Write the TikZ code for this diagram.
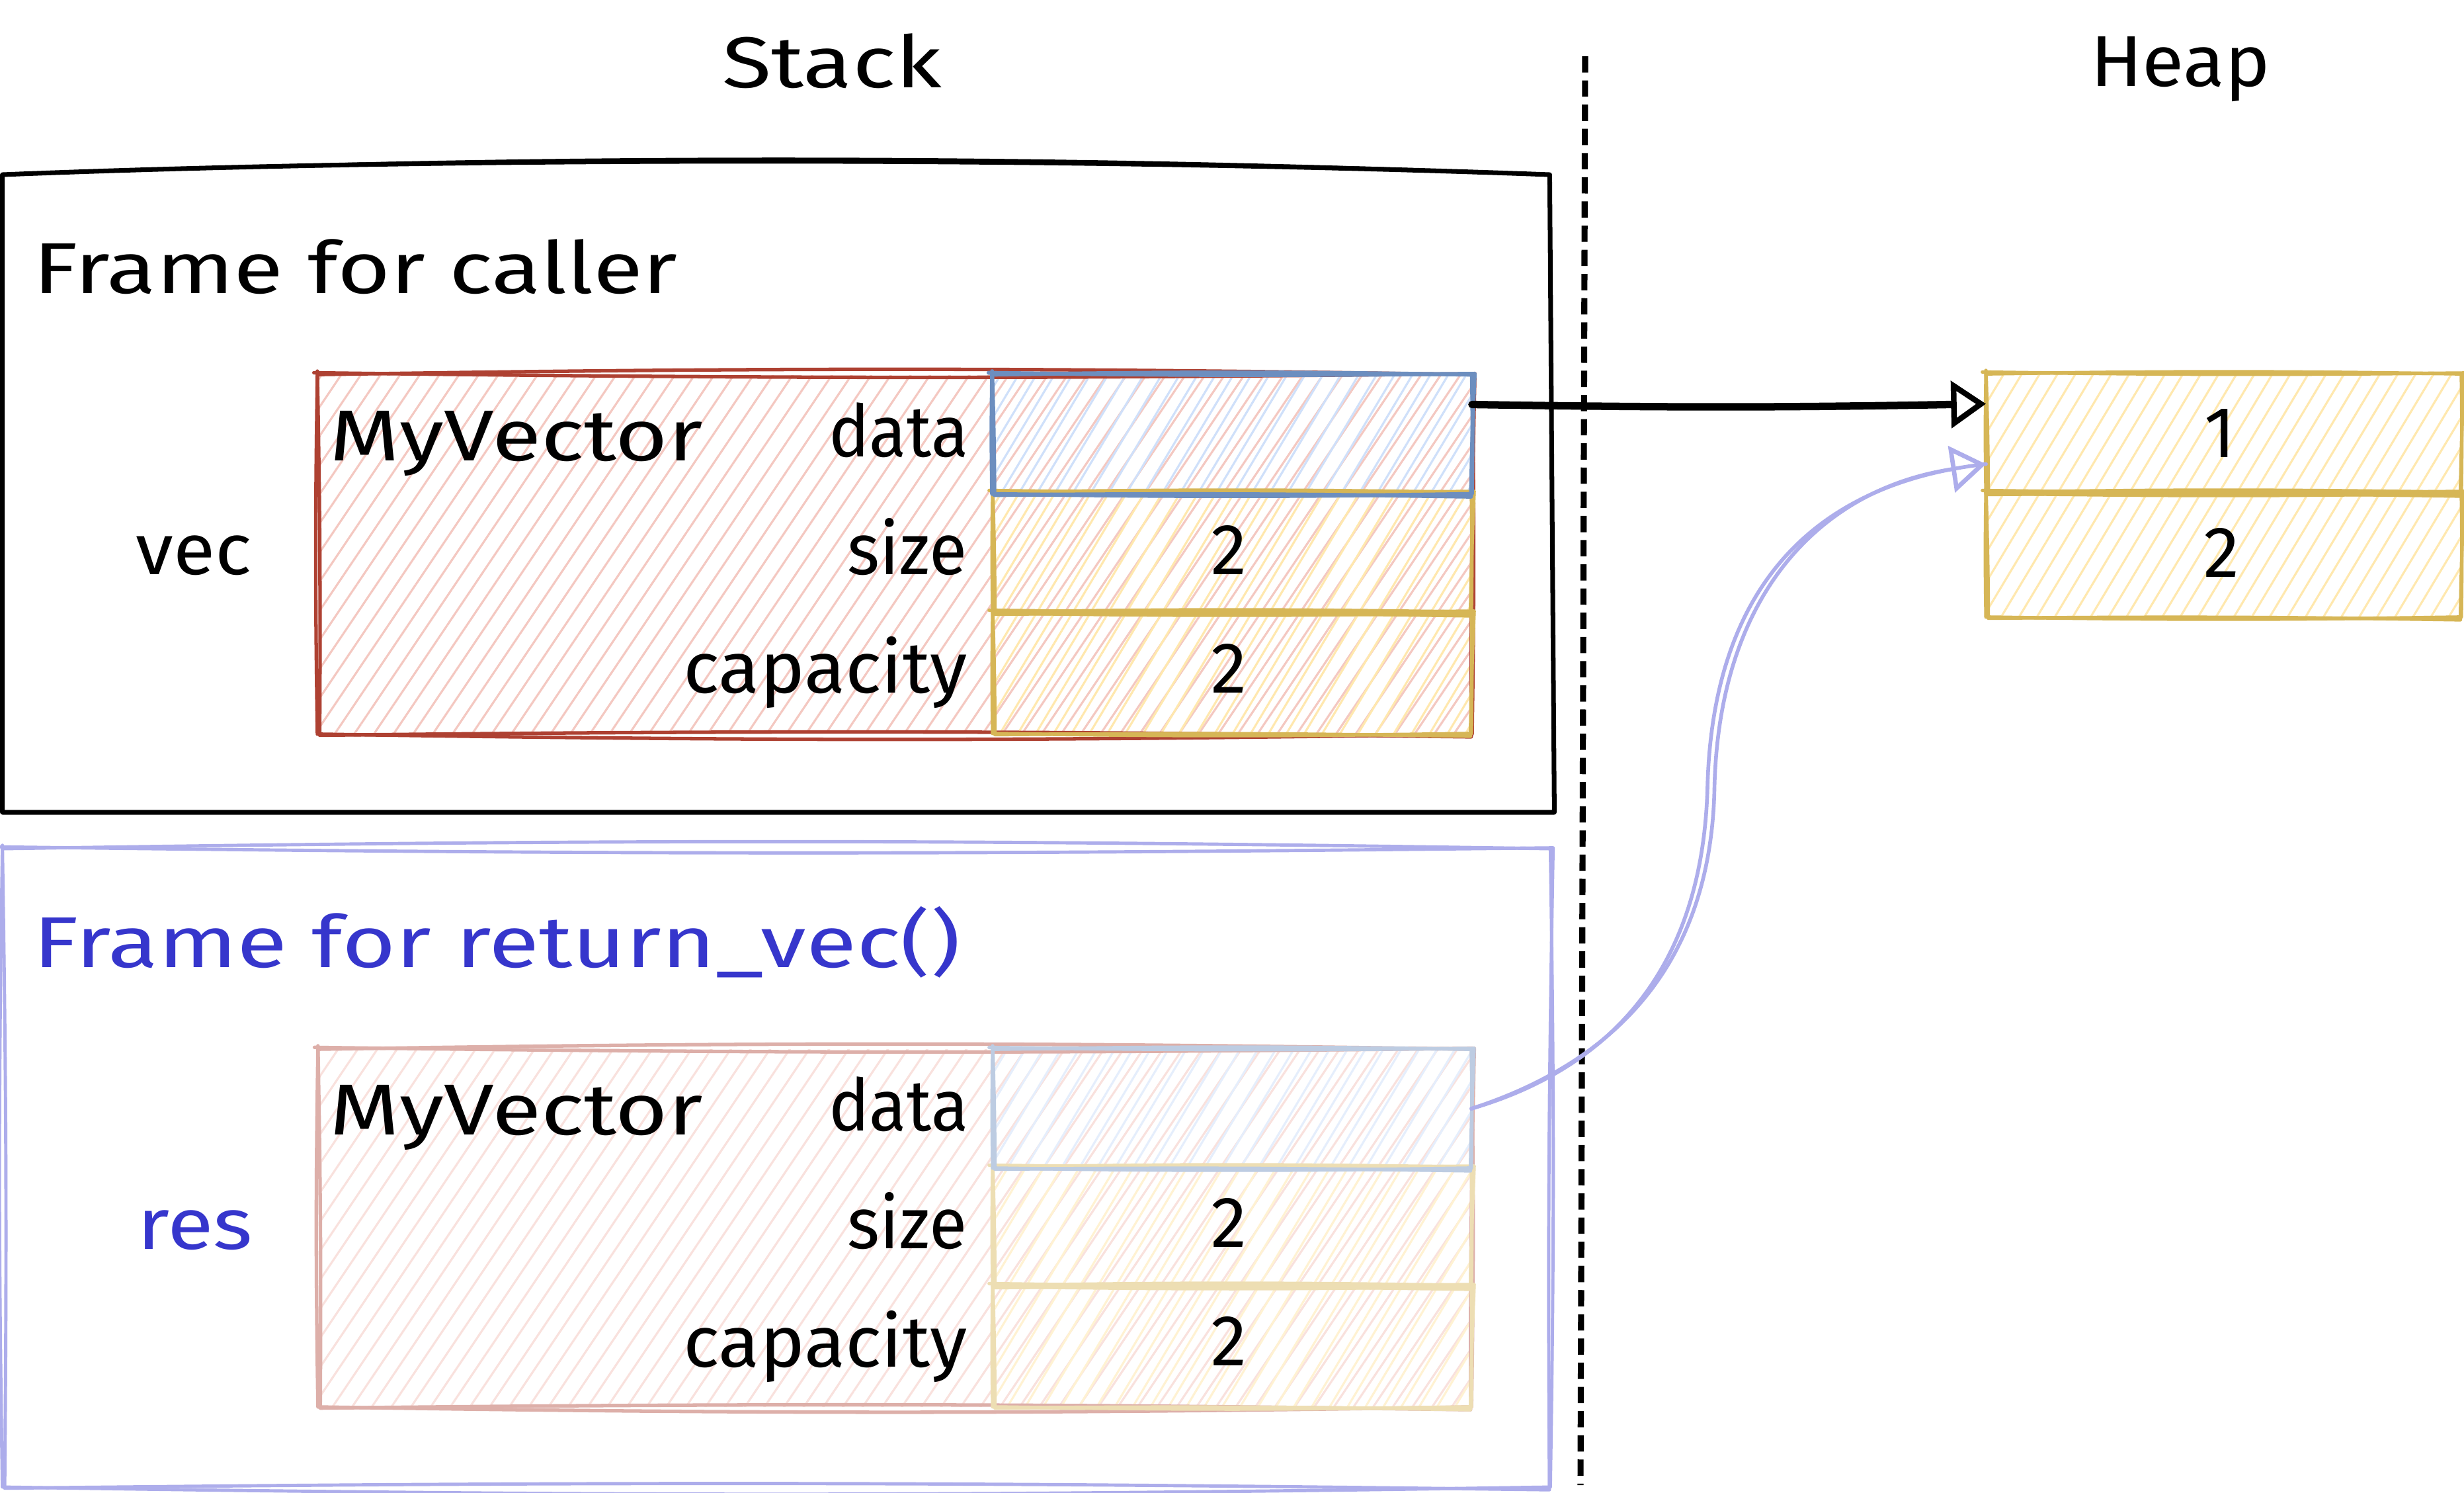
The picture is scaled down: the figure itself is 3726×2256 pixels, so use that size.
\documentclass[tikz,border=0pt]{standalone}
\usepackage{fontspec}
\usepackage{graphicx}
\setmainfont{Fira Sans}
\usetikzlibrary{arrows.meta,patterns.meta,calc}

\definecolor{redline}{HTML}{AE4132}
\definecolor{redfill}{HTML}{F4C8C1}
\definecolor{blueline}{HTML}{6C8EBF}
\definecolor{bluefill}{HTML}{CFE0FA}
\definecolor{goldline}{HTML}{D6B656}
\definecolor{goldfill}{HTML}{FFE8AE}
\definecolor{lavline}{HTML}{ADADEB}
\definecolor{titleblue}{HTML}{3636CC}

% hand-drawn rectangle: two slightly bent passes along the node border
\newcommand\roughbox[2]{%
  \draw[#1] (#2.north west) to[bend left=0.9] (#2.north east)
     to[bend left=0.9] (#2.south east) to[bend left=0.9] (#2.south west)
     to[bend left=0.9] (#2.north west);
  \draw[#1] ([shift={(-1.5pt,0.8pt)}]#2.north west) to[bend right=0.7] ([shift={(1.2pt,0.4pt)}]#2.north east)
     to[bend right=0.7] ([shift={(-0.4pt,-1.2pt)}]#2.south east) to[bend right=0.7] ([shift={(1pt,-0.5pt)}]#2.south west)
     to[bend right=0.7] ([shift={(0pt,1.5pt)}]#2.north west);
}
% horizontally widened label text
\newcommand\wide[2]{\scalebox{#1}[1]{#2}}

\tikzset{
  lbl/.style={font=\fontsize{31}{37}\selectfont, inner sep=0pt, text=black},
  box/.style={draw=none, inner sep=0pt, minimum width=#1},
  hatch/.style={pattern={Lines[angle=56,distance=7pt,line width=0.9pt]}, pattern color=#1},
  hatchb/.style={pattern={Lines[angle=59,distance=6.6pt,line width=0.9pt,xshift=3pt]}, pattern color=#1},
  frameline/.style={line width=2pt, line join=round, line cap=round},
  cellline/.style={line width=1.5pt, line join=round, line cap=round},
  divider/.style={line width=2.6pt, dash pattern=on 7pt off 3.4pt},
  ptr/.style={line width=3.2pt, line cap=round,
    -{Triangle[open,length=15pt,width=20pt,line width=2.4pt]}},
  lavptr/.style={line width=1.6pt, line cap=round, draw=lavline},
}

\begin{document}
\begin{tikzpicture}[x=0.01cm,y=-0.01cm]
\useasboundingbox[fill=white] (0,0) rectangle (3726,2256);

% ---------- layout boxes ----------
\node[box=23.37cm, minimum height=9.62cm] (F1) at (1173.5,746) {};
\node[box=23.38cm, minimum height=9.63cm] (F2) at (1174,1765.5) {};

\node[box=17.42cm, minimum height=5.40cm, hatch=redfill] (R1) at (1353,838) {};
\node[box=7.22cm, minimum height=1.77cm, hatchb=bluefill] (D1) at (1863,656.5) {};
\node[box=7.22cm, minimum height=1.81cm, hatchb=goldfill] (S1) at (1863,835.5) {};
\node[box=7.22cm, minimum height=1.82cm, hatchb=goldfill] (C1) at (1863,1017) {};

\node[box=17.42cm, minimum height=5.39cm, hatch=redfill!55!white] (R2) at (1353,1856.5) {};
\node[box=7.22cm, minimum height=1.78cm, hatchb=bluefill!55!white] (D2) at (1863,1676) {};
\node[box=7.22cm, minimum height=1.79cm, hatchb=goldfill!55!white] (S2) at (1863,1854.5) {};
\node[box=7.22cm, minimum height=1.82cm, hatchb=goldfill!55!white] (C2) at (1863,2035) {};

\node[box=7.17cm, minimum height=1.79cm, hatchb=goldfill] (H1) at (3362.5,655.5) {};
\node[box=7.17cm, minimum height=1.87cm, hatchb=goldfill] (H2) at (3362.5,838.5) {};

% ---------- stack frames ----------
\draw[frameline] (F1.south west) -- (F1.north west)
   .. controls ($(F1.north west)+(700,-28)$) and ($(F1.north east)+(-700,-26)$) .. (F1.north east)
   -- ([xshift=2pt]F1.south east) -- cycle;
\draw[frameline, line width=1pt] ($(F1.north west)+(300,-10)$) .. controls ($(F1.north west)+(900,-30)$) and ($(F1.north east)+(-800,-28)$) .. ($(F1.north east)+(-200,-8)$);
\roughbox{frameline, line width=1.4pt, draw=lavline}{F2}

% ---------- stack / heap divider ----------
\coordinate (divtop) at (2397,85);
\coordinate (divbot) at (2390,2245);
\draw[divider] (divtop) -- (divbot);

% ---------- vec ----------
\roughbox{cellline, draw=redline}{R1}
\roughbox{cellline, draw=goldline}{S1}
\roughbox{cellline, draw=goldline}{C1}
\roughbox{cellline, line width=1.7pt, draw=blueline}{D1}

% ---------- res ----------
\roughbox{cellline, draw=redline!42!white}{R2}
\roughbox{cellline, draw=goldline!45!white}{S2}
\roughbox{cellline, draw=goldline!45!white}{C2}
\roughbox{cellline, draw=blueline!45!white}{D2}

% ---------- heap ----------
\roughbox{cellline, draw=goldline}{H1}
\roughbox{cellline, draw=goldline}{H2}

% ---------- pointers ----------
\draw[ptr] ([yshift=0.45cm]D1.east) to[bend right=1] ([yshift=0.45cm]H1.west);

\coordinate (lavmid) at (2582,1190);
\draw[lavptr] (D2.east) .. controls (2450,1610) and (2575,1450) .. (lavmid)
   .. controls (2590,880) and (2750,730) .. ([yshift=-0.46cm]H1.west);
\draw[lavptr, -{Triangle[open,length=15pt,width=20pt,line width=1.9pt]}]
   (D2.east) .. controls (2460,1600) and (2588,1440) .. ([xshift=3pt]lavmid)
   .. controls (2600,890) and (2760,738) .. ([yshift=-0.46cm]H1.west);

% ---------- labels ----------
\node[lbl, anchor=base] (tStack) at (1258,132) {\wide{1.25}{Stack}};
\node[lbl, anchor=base] (tHeap) at (3297,130) {\wide{1.06}{Heap}};

\node[lbl, anchor=base west] (tFrameA) at (50,443) {\wide{1.26}{Frame for caller}};
\node[lbl, anchor=base east] (tvec) at (381,868) {\wide{1.06}{vec}};
\node[lbl, anchor=base west] (tMyA) at (498,696) {\wide{1.25}{MyVector}};
\node[lbl, anchor=base east] (tdataA) at (1465,690) {\wide{0.95}{data}};
\node[lbl, anchor=base east] (tsizeA) at (1463,868) {\wide{0.96}{size}};
\node[lbl, anchor=base east] (tcapA) at (1463,1047) {\wide{1.05}{capacity}};
\node[lbl, anchor=base] (vsizeA) at (1858,868) {2};
\node[lbl, anchor=base] (vcapA) at (1858,1047) {2};

\node[lbl, anchor=base west, text=titleblue] (tFrameB) at (50,1462) {\wide{1.28}{Frame for return\_vec()}};
\node[lbl, anchor=base east, text=titleblue] (tres) at (383,1888) {\wide{1.17}{res}};
\node[lbl, anchor=base west] (tMyB) at (498,1715) {\wide{1.25}{MyVector}};
\node[lbl, anchor=base east] (tdataB) at (1465,1709) {\wide{0.95}{data}};
\node[lbl, anchor=base east] (tsizeB) at (1463,1887) {\wide{0.96}{size}};
\node[lbl, anchor=base east] (tcapB) at (1463,2066) {\wide{1.05}{capacity}};
\node[lbl, anchor=base] (vsizeB) at (1858,1885) {2};
\node[lbl, anchor=base] (vcapB) at (1858,2064) {2};

\node[lbl, anchor=base] (vh1) at (3357,691) {1};
\node[lbl, anchor=base] (vh2) at (3359,872) {2};
\end{tikzpicture}
\end{document}
